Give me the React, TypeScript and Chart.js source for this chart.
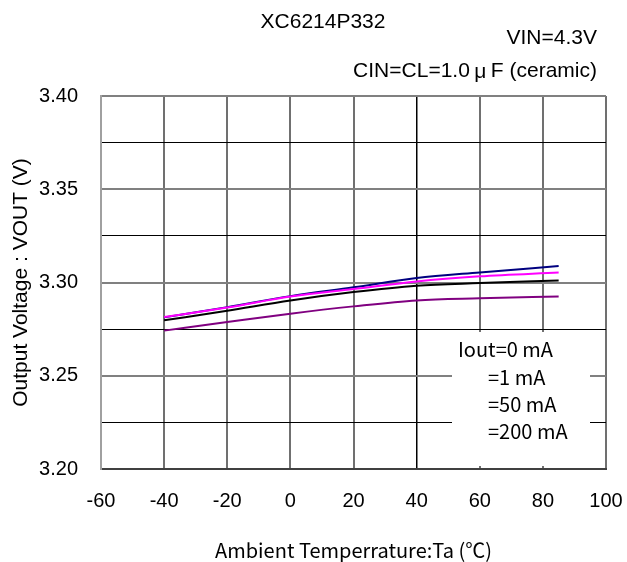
import { useEffect, useRef } from "react";
import { Chart, registerables } from "chart.js";

Chart.register(...registerables);

// ---- data ----
const temperatures = [-40, -20, 0, 20, 40, 60, 85];
const vout0mA = [3.2813, 3.2868, 3.2927, 3.2974, 3.3024, 3.3054, 3.3088];
const vout1mA = [3.2815, 3.2866, 3.2925, 3.2965, 3.3006, 3.3033, 3.3054];
const vout50mA = [3.2797, 3.2849, 3.2904, 3.2949, 3.2983, 3.2997, 3.3011];
const vout200mA = [3.2742, 3.2788, 3.2833, 3.2872, 3.2904, 3.2915, 3.2925];
const seriesLabels = ["Iout=0 mA", "=1 mA", "=50 mA", "=200 mA"];
const chartTitle = "XC6214P332";
const vinText = "VIN=4.3V";
const capTextParts = ["CIN=CL=1.0", "μ", "F (ceramic)"];
const xAxisTitle = "Ambient Temperrature:Ta (℃)";
const yAxisTitle = "Output Voltage : VOUT (V)";
const xMin = -60, xMax = 100, xStep = 20;
const yMin = 3.2, yMax = 3.4, yStep = 0.025;

const latin = '"Liberation Sans", Arial, sans-serif';
const cjk = '"Noto Sans CJK JP", sans-serif';

const isMajorY = (v: number) => Math.round(v * 1000) % 50 === 0;

const annotPlugin = {
  id: "annot",
  afterDraw(chart: any) {
    const c = chart.ctx;
    c.save();
    c.fillStyle = "#000";
    c.textBaseline = "middle";
    c.font = `21px ${latin}`;
    c.textAlign = "center";
    c.fillText(chartTitle, 323, 22);
    c.textAlign = "right";
    c.fillText(vinText, 597, 38);
    // capacitor line: right aligned at 597, with a full-width mu cell
    c.textAlign = "left";
    const right = 597;
    const w0 = c.measureText(capTextParts[0]).width;
    const w2 = c.measureText(capTextParts[2]).width;
    const muCell = 21;
    let x = right - w2 - muCell - w0;
    c.fillText(capTextParts[0], x, 71);
    x += w0;
    c.textAlign = "center";
    c.fillText(capTextParts[1], x + muCell / 2, 72);
    x += muCell;
    c.textAlign = "left";
    c.fillText(capTextParts[2], x, 71);
    // legend box
    c.fillStyle = "#fff";
    c.fillRect(452, 332, 138, 134);
    c.fillStyle = "#000";
    c.textAlign = "left";
    c.font = `20px ${cjk}`;
    c.fillText(seriesLabels[0], 458, 349);
    c.fillText(seriesLabels[1], 488, 377);
    c.fillText(seriesLabels[2], 488, 404);
    c.fillText(seriesLabels[3], 488, 431);
    c.restore();
  },
};

export default function App() {
  const ref = useRef<HTMLCanvasElement>(null);
  useEffect(() => {
    const canvas = ref.current!;
    const mk = (label: string, data: number[], color: string, order: number) => ({
      label,
      data: temperatures.map((t, i) => ({ x: t, y: data[i] })),
      borderColor: color,
      backgroundColor: color,
      borderWidth: 2,
      pointRadius: 0,
      tension: 0.3,
      cubicInterpolationMode: "monotone" as const,
      order,
    });
    const chart = new Chart(canvas, {
      type: "line",
      data: {
        datasets: [
          mk(seriesLabels[0], vout0mA, "#000080", 1),
          mk(seriesLabels[1], vout1mA, "#ff00ff", 0),
          mk(seriesLabels[2], vout50mA, "#000000", 2),
          mk(seriesLabels[3], vout200mA, "#800080", 3),
        ],
      },
      options: {
        responsive: false,
        animation: false,
        layout: { padding: { top: 96, right: 21, left: 0, bottom: 0 } },
        plugins: { legend: { display: false }, tooltip: { enabled: false } },
        scales: {
          x: {
            type: "linear",
            min: xMin,
            max: xMax,
            afterFit: (s: any) => {
              s.height = 93;
              s.paddingLeft = 0;
              s.paddingRight = 0;
            },
            ticks: {
              stepSize: xStep,
              color: "#000",
              font: { family: latin, size: 20 },
              padding: 20,
              maxRotation: 0,
              autoSkip: false,
            },
            grid: {
              drawTicks: false,
              color: (c: any) => (c.tick && c.tick.value === 40 ? "#000" : "#707070"),
              lineWidth: (c: any) => (c.tick && c.tick.value === 40 ? 1.5 : 2),
            },
            border: { color: "#404040", width: 2 },
            title: {
              display: true,
              text: xAxisTitle,
              color: "#000",
              font: { family: cjk, size: 20 },
              padding: { top: 0, bottom: 0 },
            },
          },
          y: {
            type: "linear",
            min: yMin,
            max: yMax,
            afterFit: (s: any) => {
              s.width = 101;
              s.paddingTop = 0;
              s.paddingBottom = 0;
            },
            ticks: {
              stepSize: yStep,
              color: "#000",
              font: { family: latin, size: 20 },
              padding: 23,
              autoSkip: false,
              callback: (v: any) => (isMajorY(Number(v)) ? Number(v).toFixed(2) : ""),
            },
            grid: {
              drawTicks: false,
              color: (c: any) => (c.tick && isMajorY(c.tick.value) ? "#808080" : "#000"),
              lineWidth: (c: any) => (c.tick && isMajorY(c.tick.value) ? 2 : 1),
            },
            border: { color: "#a0a0a0", width: 2 },
            title: {
              display: true,
              text: yAxisTitle,
              color: "#000",
              font: { family: latin, size: 21 },
              padding: { top: 9, bottom: 0 },
            },
          },
        },
      },
      plugins: [annotPlugin],
    });
    return () => chart.destroy();
  }, []);
  return (
    <div style={{ position: "absolute", left: 0, top: 0, width: 627, height: 562, background: "#fff" }}>
      <canvas ref={ref} width={627} height={562} />
    </div>
  );
}
